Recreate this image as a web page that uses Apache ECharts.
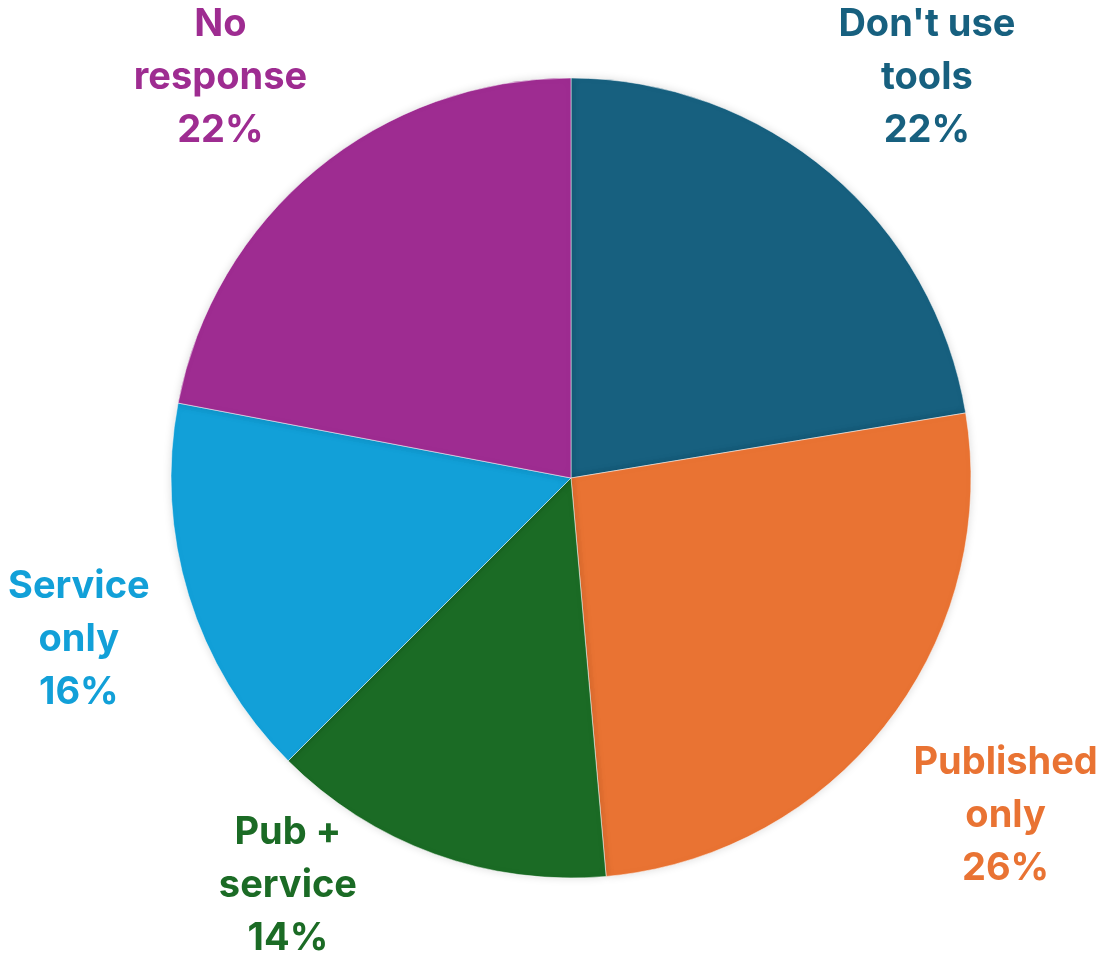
<!DOCTYPE html>
<html>
<head>
<meta charset="utf-8">
<script src="https://cdn.jsdelivr.net/npm/echarts@6/dist/echarts.min.js"></script>
<style>
  html, body { margin: 0; padding: 0; background: #fff; }
  #chart { width: 1109px; height: 955px; }
</style>
</head>
<body>
<div id="chart"></div>
<script>
const categories = ["Don't use\ntools", 'Published\nonly', 'Pub +\nservice', 'Service\nonly', 'No\nresponse'];
const shares = [22.4, 26.2, 13.9, 15.5, 22.0];
const colors = ['#17607f', '#e97333', '#1b6b25', '#12a0d8', '#9e2c91'];

const W = 1109, H = 955;
const cx = 571, cy = 478, R = 400;
const labelDist = 550;
// Excel nudged the small bottom label sideways to keep it on the page
const angleNudge = { 2: 11 };

const total = shares.reduce((a, b) => a + b, 0);
const midAngles = [];
let acc = 0;
shares.forEach((v) => {
  midAngles.push(((acc + v / 2) / total) * 360);
  acc += v;
});

const chart = echarts.init(document.getElementById('chart'));

chart.setOption({
  animation: false,
  series: [{
    type: 'pie',
    center: [cx, cy],
    radius: [0, R],
    startAngle: 90,
    clockwise: true,
    label: {
      show: true,
      position: 'outside',
      overflow: 'none',
      fontFamily: 'Inter',
      fontWeight: 'bold',
      fontSize: 38,
      lineHeight: 53,
      align: 'center',
      formatter: (p) => `${p.name}\n${Math.round(p.percent)}%`,
    },
    labelLine: { show: false },
    labelLayout: (params) => {
      const i = params.dataIndex;
      const a = (midAngles[i] + (angleNudge[i] || 0)) * Math.PI / 180;
      let x = cx + labelDist * Math.sin(a);
      let y = cy - labelDist * Math.cos(a);
      const hw = params.labelRect.width / 2;
      const hh = params.labelRect.height / 2;
      x = Math.min(Math.max(x, hw + 8), W - hw - 2);
      y = Math.min(Math.max(y, hh - 2), H + 10 - hh);
      return { x, y, align: 'center', verticalAlign: 'middle' };
    },
    itemStyle: {
      borderColor: 'rgba(255,255,255,0.5)',
      borderWidth: 1,
      shadowBlur: 8,
      shadowColor: 'rgba(0,0,0,0.15)',
    },
    data: shares.map((v, i) => ({
      value: v,
      name: categories[i],
      itemStyle: { color: colors[i] },
      label: { color: colors[i] },
    })),
  }],
});
</script>
</body>
</html>
